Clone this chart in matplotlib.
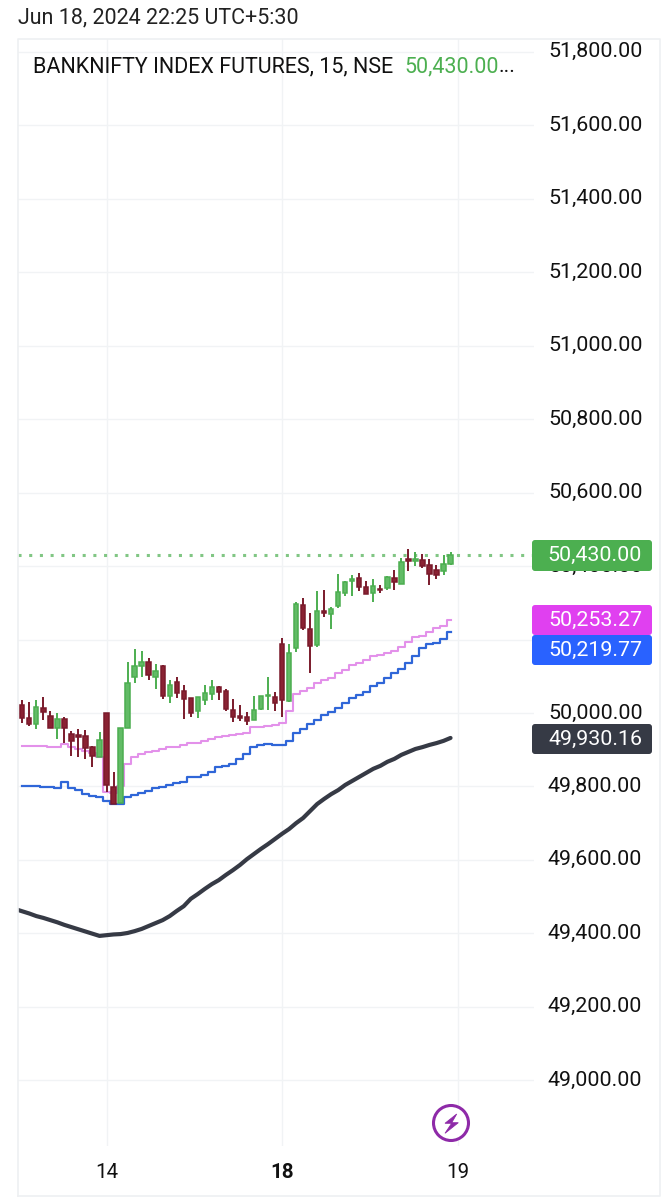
import matplotlib
matplotlib.use("Agg")
import matplotlib.pyplot as plt
from matplotlib.patches import Circle, FancyBboxPatch, Polygon

plt.rcParams['font.family'] = ['Roboto', 'DejaVu Sans']

# candle values, first candle is the 13th session tail
opens = [50022, 49985, 49969, 50013, 49992, 49958, 49984, 49943, 49939, 49938,
         49908, 49881, 49999, 49799, 49755, 49958, 50097, 50128, 50139, 50097,
         50128, 50047, 50083, 50060, 50040, 50005, 50035, 50052, 50071, 50060,
         50008, 49991, 49989, 49982, 50010, 50046, 50044, 50189, 50033, 50176,
         50294, 50228, 50185, 50278, 50269, 50291, 50328, 50360, 50368, 50342,
         50326, 50337, 50339, 50368, 50350, 50419, 50414, 50416, 50403, 50389,
         50387, 50406]
highs = [50035, 50031, 50035, 50044, 50005, 49999, 49990, 49951, 49955, 49953,
         49911, 49949, 49999, 49840, 49958, 50140, 50174, 50170, 50149, 50133,
         50131, 50090, 50097, 50076, 50042, 50044, 50076, 50090, 50074, 50064,
         50037, 50022, 50004, 50047, 50047, 50099, 50056, 50205, 50188, 50303,
         50312, 50273, 50332, 50335, 50289, 50378, 50359, 50375, 50382, 50360,
         50364, 50348, 50373, 50389, 50421, 50446, 50437, 50433, 50419, 50403,
         50430, 50437]
lows = [49972, 49965, 49956, 49981, 49960, 49928, 49917, 49883, 49881, 49876,
        49852, 49881, 49786, 49752, 49754, 49958, 50081, 50097, 50090, 50065,
        50037, 50028, 50040, 49984, 49990, 49985, 50022, 50034, 50035, 50005,
        49976, 49979, 49967, 49981, 50008, 50008, 50005, 49990, 50031, 50167,
        50226, 50110, 50180, 50260, 50228, 50287, 50318, 50319, 50333, 50323,
        50301, 50326, 50335, 50335, 50350, 50386, 50401, 50395, 50348, 50366,
        50377, 50404]
closes = [49985, 49970, 50015, 50004, 49960, 49983, 49958, 49924, 49934, 49904,
          49883, 49926, 49804, 49752, 49958, 50081, 50128, 50139, 50103, 50114,
          50047, 50076, 50055, 50039, 50001, 50044, 50054, 50071, 50056, 50012,
          49988, 49986, 49979, 50008, 50046, 50050, 50028, 50035, 50164, 50296,
          50230, 50183, 50278, 50271, 50283, 50329, 50357, 50365, 50343, 50324,
          50346, 50334, 50371, 50357, 50412, 50414, 50419, 50401, 50378, 50377,
          50405, 50430]

pink_line = [49911, 49910, 49910, 49909, 49908, 49908, 49915, 49906, 49901, 49896,
             49892, 49881, 49786, 49781, 49801, 49861, 49881, 49888, 49895, 49897,
             49901, 49906, 49908, 49913, 49917, 49919, 49925, 49928, 49934, 49937,
             49939, 49943, 49946, 49961, 49963, 49965, 49966, 49974, 50005, 50051,
             50060, 50067, 50082, 50091, 50094, 50110, 50117, 50130, 50135, 50144,
             50155, 50158, 50164, 50169, 50180, 50194, 50208, 50210, 50220, 50230,
             50237, 50253]
blue_line = [49801, 49801, 49801, 49799, 49798, 49797, 49812, 49797, 49790, 49780,
             49775, 49770, 49759, 49753, 49753, 49770, 49776, 49781, 49788, 49795,
             49799, 49804, 49808, 49813, 49825, 49826, 49831, 49840, 49852, 49855,
             49861, 49874, 49888, 49906, 49913, 49916, 49913, 49913, 49924, 49945,
             49955, 49969, 49981, 49994, 50003, 50013, 50028, 50040, 50049, 50058,
             50073, 50082, 50094, 50108, 50121, 50137, 50155, 50176, 50188, 50191,
             50201, 50220]
dark_line = [49460, 49454, 49447, 49442, 49436, 49430, 49423, 49417, 49411, 49405,
             49399, 49393, 49395, 49397, 49398, 49401, 49406, 49412, 49420, 49428,
             49436, 49447, 49461, 49474, 49494, 49507, 49521, 49534, 49545, 49559,
             49572, 49586, 49602, 49616, 49630, 49643, 49657, 49671, 49684, 49700,
             49714, 49733, 49752, 49766, 49779, 49790, 49804, 49815, 49826, 49837,
             49848, 49856, 49867, 49875, 49886, 49894, 49902, 49907, 49913, 49918,
             49924, 49932]

price_ticks = [51800, 51600, 51400, 51200, 51000, 50800, 50600, 50400, 50200,
               50000, 49800, 49600, 49400, 49200, 49000]
day_ticks = [12, 37, 62]
day_labels = ['14', '18', '19']
last_price = 50430

GREEN = '#4caf50'
RED = '#7a1a2b'
GRID = '#f1f3f5'

W, H = 665, 1200
fig = plt.figure(figsize=(W / 100, H / 100), dpi=100, facecolor='white')

# chart area, pixel box 18..534 x 39..1146
ax = fig.add_axes([18 / W, 1 - 1146 / H, (534 - 18) / W, (1146 - 39) / H])
ax.set_xlim(-0.61, 72.89)
ax.set_ylim(48821, 51835)
for side in ('top', 'left', 'right', 'bottom'):
    ax.spines[side].set_visible(False)

ax.yaxis.tick_right()
ax.set_yticks(price_ticks)
ax.set_yticklabels([f'{p:,.2f}' for p in price_ticks], fontsize=15.4, color='#111111', va='center')
ax.tick_params(axis='y', length=0, pad=10)
ax.set_xticks(day_ticks)
ax.set_xticklabels(day_labels, fontsize=14.8, color='#111111')
ax.get_xticklabels()[1].set_fontweight('bold')
ax.tick_params(axis='x', length=0, pad=12)
ax.grid(True, color=GRID, linewidth=1.0)
ax.set_axisbelow(True)

days = list(range(len(closes)))
ax.plot(days, pink_line, drawstyle='steps-mid', color='#e391ea', lw=1.5, zorder=2)
ax.plot(days, blue_line, drawstyle='steps-mid', color='#2f66d8', lw=1.6, zorder=2)
ax.plot([-1] + days, [49466] + dark_line, color='#363a45', lw=3, zorder=2,
        solid_capstyle='round')

ax.axhline(last_price, color=GREEN, lw=2.2, ls=(0, (1, 2.5)), alpha=0.7, zorder=2)

for i in days:
    up = closes[i] >= opens[i]
    col = '#4cae50' if up else RED
    face = '#62bb66' if up else '#8a2233'
    ax.vlines(i, lows[i], highs[i], color=col, lw=1.4, zorder=3)
    bottom = min(opens[i], closes[i])
    height = max(abs(closes[i] - opens[i]), 3)
    ax.bar(i, height, bottom=bottom, width=0.62, color=face, edgecolor=col, lw=1.1, zorder=4)

# everything drawn in screen pixels sits on a second axes above the chart
top = fig.add_axes([0, 0, 1, 1], facecolor='none')
top.set_xlim(0, W)
top.set_ylim(H, 0)
top.axis('off')

top.plot([18, 18, 660, 660, 18], [1196, 39, 39, 1196, 1196], color='#eef0f2', lw=1.2)
top.text(18, 18, 'Jun 18, 2024 22:25 UTC+5:30', fontsize=15.5, color='#222222', va='center')
top.text(33, 67, 'BANKNIFTY INDEX FUTURES, 15, NSE', fontsize=15.5, color='#111111', va='center')
top.text(404, 67, '50,430.00', fontsize=15.5, color=GREEN, va='center')
top.text(499, 67, '...', fontsize=15.5, color='#111111', va='center')

tags = [(540, 571, '#4caf50', '50,430.00'),
        (605, 635, '#e040f0', '50,253.27'),
        (635, 665, '#2962ff', '50,219.77'),
        (724, 754, '#363a45', '49,930.16')]
for y0, y1, col, txt in tags:
    top.add_patch(FancyBboxPatch((535, y0 + 3), 114, y1 - y0 - 6,
                                 boxstyle='round,pad=3,rounding_size=3',
                                 fc=col, ec='none', zorder=5))
    top.text(642, (y0 + y1) / 2, txt, fontsize=15.4, color='white',
             ha='right', va='center', zorder=6)

top.add_patch(Circle((451, 1123), 17.5, fc='white', ec='#8e2aa8', lw=2.2, zorder=5))
top.add_patch(Polygon([(456.7, 1114), (445, 1123.3), (451.7, 1123.3), (445, 1133.3),
                       (458.3, 1122.7), (451.7, 1122.7)],
                      fc='#8e2aa8', ec='#8e2aa8', lw=0.6, zorder=6))

fig.savefig('out.png', dpi=100)
